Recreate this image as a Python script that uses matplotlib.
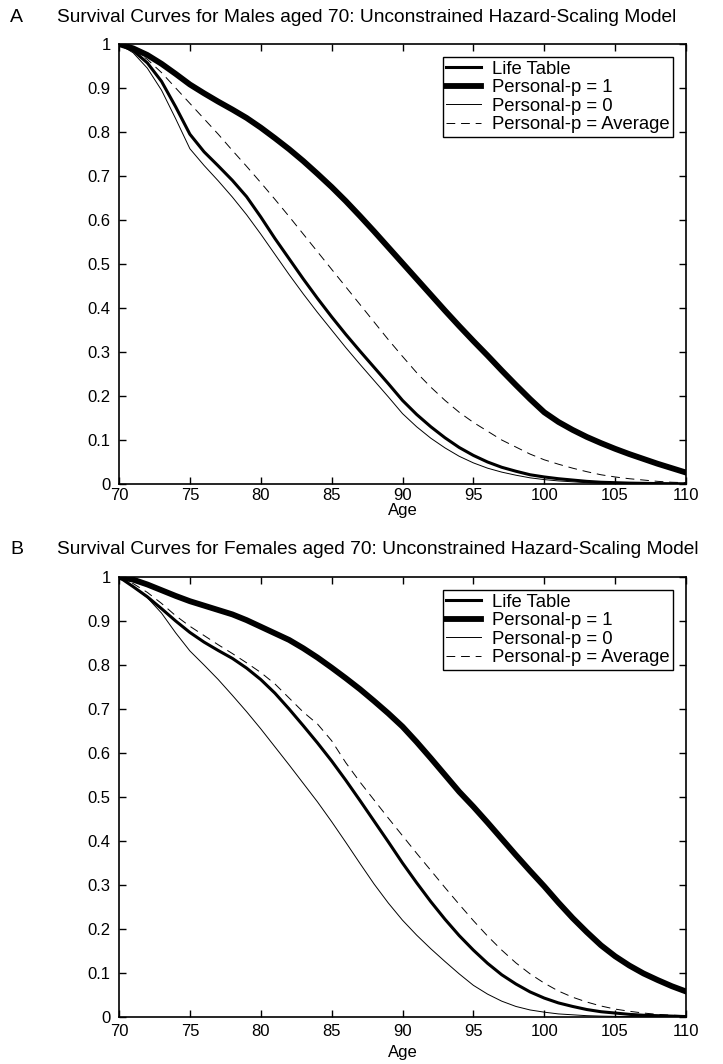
import numpy as np
import matplotlib
matplotlib.use("Agg")
import matplotlib.pyplot as plt

plt.rcParams['font.family'] = ['Liberation Sans', 'DejaVu Sans']

ages = np.arange(70, 111)

# Panel A: males
life_table_m = [1.000, 0.985, 0.957, 0.915, 0.857, 0.795, 0.755, 0.723, 0.690, 0.653,
                0.607, 0.558, 0.512, 0.466, 0.422, 0.380, 0.340, 0.302, 0.265, 0.228,
                0.190, 0.158, 0.130, 0.105, 0.083, 0.065, 0.050, 0.038, 0.029, 0.021,
                0.016, 0.012, 0.009, 0.006, 0.004, 0.003, 0.002, 0.0015, 0.001, 0.0007,
                0.0005]
p1_m = [1.000, 0.990, 0.975, 0.955, 0.932, 0.908, 0.888, 0.869, 0.851, 0.832,
        0.810, 0.786, 0.761, 0.734, 0.705, 0.675, 0.643, 0.609, 0.574, 0.538,
        0.502, 0.466, 0.430, 0.394, 0.359, 0.325, 0.292, 0.258, 0.225, 0.193,
        0.163, 0.141, 0.123, 0.107, 0.093, 0.080, 0.068, 0.057, 0.046, 0.036,
        0.026]
p0_m = [1.000, 0.980, 0.945, 0.895, 0.830, 0.762, 0.724, 0.689, 0.652, 0.612,
        0.568, 0.522, 0.476, 0.432, 0.390, 0.350, 0.310, 0.272, 0.235, 0.198,
        0.160, 0.130, 0.104, 0.082, 0.063, 0.048, 0.036, 0.027, 0.020, 0.014,
        0.010, 0.007, 0.005, 0.003, 0.002, 0.0015, 0.001, 0.0007, 0.0005, 0.0003,
        0.0002]
avg_m = [1.000, 0.988, 0.965, 0.935, 0.900, 0.865, 0.830, 0.795, 0.758, 0.722,
         0.685, 0.647, 0.608, 0.568, 0.528, 0.488, 0.448, 0.408, 0.368, 0.328,
         0.290, 0.253, 0.220, 0.190, 0.163, 0.140, 0.120, 0.100, 0.084, 0.068,
         0.055, 0.045, 0.036, 0.028, 0.021, 0.016, 0.012, 0.009, 0.006, 0.004,
         0.003]

# Panel B: females
life_table_f = [1.000, 0.978, 0.955, 0.928, 0.900, 0.874, 0.852, 0.833, 0.815, 0.793,
                0.767, 0.736, 0.700, 0.662, 0.623, 0.582, 0.538, 0.492, 0.445, 0.398,
                0.350, 0.305, 0.262, 0.222, 0.185, 0.152, 0.122, 0.096, 0.075, 0.057,
                0.043, 0.032, 0.024, 0.017, 0.012, 0.009, 0.006, 0.004, 0.003, 0.002,
                0.001]
p1_f = [1.000, 0.994, 0.983, 0.970, 0.957, 0.945, 0.935, 0.925, 0.915, 0.902,
        0.887, 0.872, 0.857, 0.838, 0.817, 0.794, 0.770, 0.745, 0.718, 0.690,
        0.660, 0.625, 0.588, 0.550, 0.512, 0.478, 0.442, 0.405, 0.368, 0.332,
        0.297, 0.260, 0.225, 0.193, 0.163, 0.138, 0.117, 0.099, 0.084, 0.070,
        0.058]
p0_f = [1.000, 0.978, 0.953, 0.918, 0.873, 0.832, 0.800, 0.767, 0.731, 0.694,
        0.655, 0.614, 0.573, 0.531, 0.489, 0.444, 0.397, 0.349, 0.302, 0.259,
        0.220, 0.186, 0.155, 0.126, 0.098, 0.072, 0.052, 0.036, 0.024, 0.016,
        0.011, 0.007, 0.005, 0.003, 0.002, 0.0015, 0.001, 0.0007, 0.0005, 0.0003,
        0.0002]
avg_f = [1.000, 0.985, 0.965, 0.940, 0.912, 0.888, 0.867, 0.846, 0.826, 0.805,
         0.783, 0.757, 0.725, 0.693, 0.666, 0.628, 0.578, 0.534, 0.493, 0.452,
         0.412, 0.372, 0.333, 0.294, 0.256, 0.219, 0.184, 0.152, 0.123, 0.098,
         0.077, 0.059, 0.045, 0.034, 0.025, 0.018, 0.013, 0.009, 0.006, 0.004,
         0.003]

labels = ["Life Table", "Personal-p = 1", "Personal-p = 0", "Personal-p = Average"]
x_ticks = [70, 75, 80, 85, 90, 95, 100, 105, 110]
y_ticks = [0, 0.1, 0.2, 0.3, 0.4, 0.5, 0.6, 0.7, 0.8, 0.9, 1]
y_ticklabels = ["0", "0.1", "0.2", "0.3", "0.4", "0.5", "0.6", "0.7", "0.8", "0.9", "1"]

titles = ["Survival Curves for Males aged 70: Unconstrained Hazard-Scaling Model",
          "Survival Curves for Females aged 70: Unconstrained Hazard-Scaling Model"]
panel_letters = ["A", "B"]

W, H = 723, 1064
fig = plt.figure(figsize=(W / 100, H / 100), dpi=100)

panels = [
    (life_table_m, p1_m, p0_m, avg_m, 44, 484, 3, 0, 18),
    (life_table_f, p1_f, p0_f, avg_f, 577, 1017, 5, 4, 549),
]
left_px, right_px = 119, 686

for i, (lt, p1, p0, av, top_px, bot_px, xpad, lpad, ty) in enumerate(panels):
    ax = fig.add_axes([left_px / W, 1 - bot_px / H, (right_px - left_px) / W, (bot_px - top_px) / H])
    ax.plot(ages, lt, color='black', lw=2.2, label=labels[0], solid_joinstyle='round')
    ax.plot(ages, p1, color='black', lw=4.2, label=labels[1], solid_joinstyle='round')
    ax.plot(ages, p0, color='black', lw=0.7, label=labels[2])
    ax.plot(ages, av, color='black', lw=0.7, dashes=(9, 6), label=labels[3])
    ax.set_xlim(70, 110)
    ax.set_ylim(0, 1)
    ax.set_xticks(x_ticks)
    ax.set_xticklabels([str(t) for t in x_ticks])
    ax.set_yticks(y_ticks)
    ax.set_yticklabels(y_ticklabels)
    ax.tick_params(direction='in', length=5, width=1.0, top=True, right=True,
                   labelsize=12, colors='black')
    ax.tick_params(axis='x', pad=xpad)
    ax.tick_params(axis='y', pad=6)
    for s in ax.spines.values():
        s.set_linewidth(1.2)
    ax.set_xlabel("Age", fontsize=12, labelpad=lpad)
    leg = ax.legend(loc='upper right', bbox_to_anchor=(0.977, 0.97), fontsize=13.3,
                    frameon=True, fancybox=False, edgecolor='black', framealpha=1,
                    handlelength=1.9, handletextpad=0.55, labelspacing=0.08,
                    borderpad=0.2, borderaxespad=0)
    leg.get_frame().set_linewidth(1.0)
    fig.text(10 / W, 1 - ty / H, panel_letters[i], fontsize=14, ha='left', va='center')
    fig.text(57 / W, 1 - ty / H, titles[i], fontsize=13.8, ha='left', va='center')

fig.savefig("out.png", dpi=100)
